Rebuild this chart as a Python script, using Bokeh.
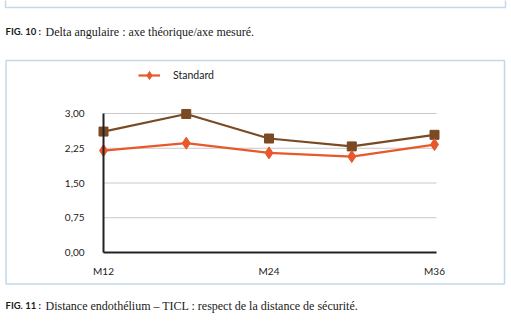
from bokeh.plotting import figure
from bokeh.models import (Range1d, FixedTicker, Label, BoxAnnotation, Legend, LegendItem)
from bokeh.embed import file_html
from bokeh.resources import INLINE

months = [12, 18, 24, 30, 36]
x_tick_labels = {12: "M12", 24: "M24", 36: "M36"}
y_ticks = [0.0, 0.75, 1.5, 2.25, 3.0]
y_tick_labels = {0.0: "0,00", 0.75: "0,75", 1.5: "1,50", 2.25: "2,25", 3.0: "3,00"}
series_brown = [2.61, 2.99, 2.46, 2.29, 2.54]
series_standard = [2.20, 2.36, 2.15, 2.07, 2.33]
legend_label = "Standard"
caption10_bold = "FIG. 10 :"
caption10_text = "Delta angulaire : axe théorique/axe mesuré."
caption11_bold = "FIG. 11 :"
caption11_text = "Distance endothélium – TICL : respect de la distance de sécurité."

W, H = 511, 336
# pixel placement of the plotting area inside the page picture
PX_X0, PX_X1 = 103.0, 434.0   # pixel of first / last month
PX_Y0, PX_Y3 = 252.0, 113.0   # pixel of 0.00 / 3.00
X_FIRST, X_LAST = months[0], months[-1]
sx = (PX_X1 - PX_X0) / (X_LAST - X_FIRST)
sy = (PX_Y0 - PX_Y3) / 3.0
x_start = X_FIRST - PX_X0 / sx
x_end = X_LAST + (W - PX_X1) / sx
y_start = -(H - PX_Y0) / sy
y_end = 3.0 + PX_Y3 / sy

def px2x(px):
    return x_start + px / sx

def px2y(py):
    return y_end - py / sy

p = figure(width=W, height=H, output_backend="svg", toolbar_location=None,
           x_range=Range1d(x_start, x_end), y_range=Range1d(y_start, y_end),
           min_border=0, min_border_left=0, min_border_right=0,
           min_border_top=0, min_border_bottom=0)
p.outline_line_color = None
p.background_fill_color = "white"
p.border_fill_color = "white"
p.xgrid.visible = False
p.ygrid.visible = False

x_axis_end = px2x(436)

# horizontal grid lines
p.segment(x0=[X_FIRST] * len(y_ticks), x1=[x_axis_end] * len(y_ticks),
          y0=y_ticks, y1=y_ticks, line_color="#c9c9c9", line_width=1.2)

for ax in (p.xaxis[0], p.yaxis[0]):
    ax.axis_line_color = "#222222"
    ax.axis_line_width = 2
    ax.major_tick_line_color = None
    ax.minor_tick_line_color = None
    ax.major_label_text_font = "Lato"
    ax.major_label_text_font_size = "10px"
    ax.major_label_text_color = "#222222"

p.yaxis[0].fixed_location = X_FIRST
p.yaxis[0].bounds = (0, 3)
p.yaxis[0].ticker = FixedTicker(ticks=y_ticks)
p.yaxis[0].major_label_overrides = y_tick_labels
p.yaxis[0].major_tick_in = 0
p.yaxis[0].major_tick_out = 16
p.yaxis[0].major_label_standoff = 3

p.xaxis[0].fixed_location = 0
p.xaxis[0].bounds = (X_FIRST, x_axis_end)
p.xaxis[0].ticker = FixedTicker(ticks=list(x_tick_labels.keys()))
p.xaxis[0].major_label_overrides = x_tick_labels
p.xaxis[0].major_tick_in = 0
p.xaxis[0].major_tick_out = 0
p.xaxis[0].major_label_standoff = 12

brown = "#7a4a24"
orange = "#e8582b"

p.line(months, series_brown, line_color=brown, line_width=2.2)
p.scatter(months, series_brown, marker="square", size=9, fill_color=brown, line_color=brown)
l_std = p.line(months, series_standard, line_color=orange, line_width=2.2)
s_std = p.scatter(months, series_standard, marker="diamond", size=12, fill_color=orange, line_color=orange)

leg = Legend(items=[LegendItem(label=legend_label, renderers=[l_std, s_std])],
             location=(138, H - 85), padding=0, margin=0,
             glyph_width=22, glyph_height=20, label_standoff=13,
             label_text_font="Lato", label_text_font_size="10.5px",
             label_text_color="#222222",
             border_line_alpha=0, background_fill_alpha=0)
p.add_layout(leg, "center")

border = "#3b7fb5"
# previous figure's box, only its lower part visible
p.add_layout(BoxAnnotation(left=px2x(5), right=px2x(505), top=px2y(-20), bottom=px2y(7),
                           fill_alpha=0, line_color=border, line_width=1.5))
# main chart box
p.add_layout(BoxAnnotation(left=px2x(5.5), right=px2x(504), top=px2y(60), bottom=px2y(283.5),
                           fill_alpha=0, line_color=border, line_width=1.5))

def caption(bold, text, ycen):
    p.add_layout(Label(x=px2x(5), y=px2y(ycen),
                       text=bold, text_font="Lato", text_font_style="bold",
                       text_font_size="9.5px", text_color="#1a1a1a",
                       text_baseline="middle", text_align="left"))
    p.add_layout(Label(x=px2x(45), y=px2y(ycen),
                       text=text, text_font="Liberation Serif",
                       text_font_size="12px", text_color="#1a1a1a",
                       text_baseline="middle", text_align="left"))

caption(caption10_bold, caption10_text, 31)
caption(caption11_bold, caption11_text, 305)

open("out.html", "w").write(file_html(p, INLINE))
